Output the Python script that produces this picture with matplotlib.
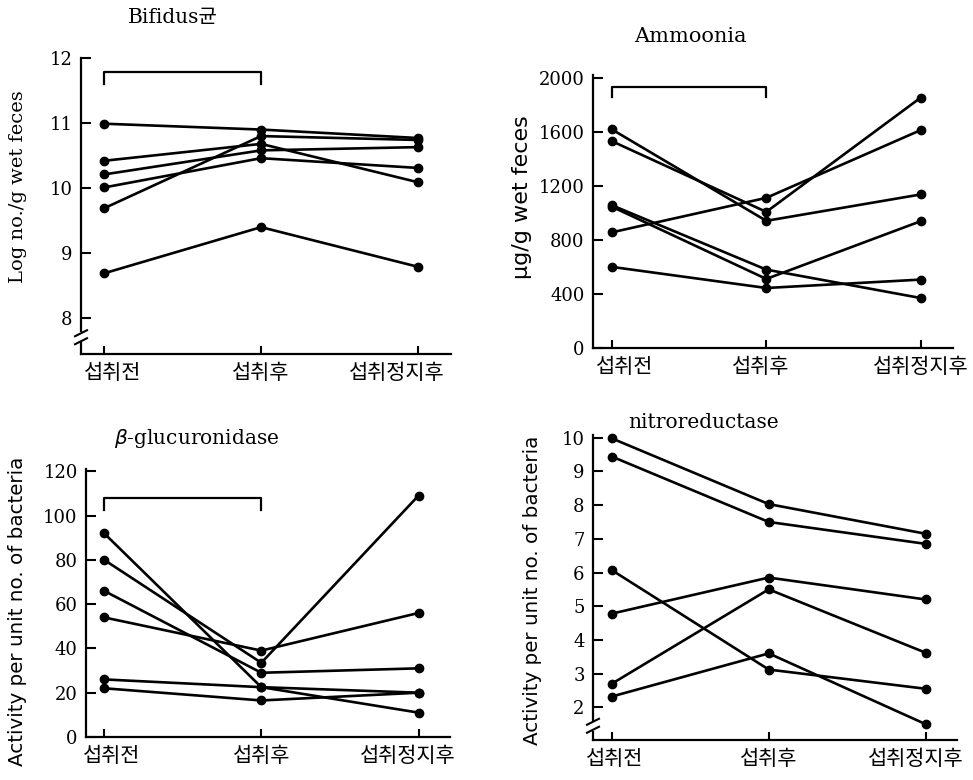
import matplotlib
matplotlib.use('Agg')
import matplotlib.pyplot as plt
from matplotlib.transforms import ScaledTranslation
from matplotlib.patches import Rectangle

# ---------------- data ----------------
categories = ['섭취전', '섭취후', '섭취정지후']

bifidus = [
    [10.99, 10.90, 10.77],
    [9.69, 10.80, 10.74],
    [10.42, 10.68, 10.09],
    [10.21, 10.58, 10.63],
    [10.01, 10.46, 10.31],
    [8.69, 9.40, 8.79],
]
ammonia = [
    [1617, 941, 1136],
    [1530, 1007, 1852],
    [856, 1111, 1612],
    [1056, 580, 370],
    [1045, 511, 938],
    [600, 444, 506],
]
glucuronidase = [
    [92, 22.5, 11],
    [80, 33.5, 109],
    [66, 29, 31],
    [54, 39, 56],
    [26, 22.5, 20],
    [22, 16.5, 20],
]
nitroreductase = [
    [9.98, 8.03, 7.15],
    [9.44, 7.50, 6.85],
    [6.07, 3.12, 2.55],
    [4.78, 5.85, 5.20],
    [2.70, 5.50, 3.62],
    [2.32, 3.60, 1.50],
]

bifidus_ticks = [8, 9, 10, 11, 12]
ammonia_ticks = [0, 400, 800, 1200, 1600, 2000]
gluc_ticks = [0, 20, 40, 60, 80, 100, 120]
nitro_ticks = [2, 3, 4, 5, 6, 7, 8, 9, 10]

# ---------------- style ----------------
W, H = 973, 780
SERIF = ['DejaVu Serif', 'Noto Sans CJK KR']
KR = ['Noto Sans CJK KR', 'DejaVu Sans']
SANS = ['DejaVu Sans']

fig = plt.figure(figsize=(W / 100, H / 100), dpi=100)


def rect(left, top, right, bottom):
    return [left / W, 1 - bottom / H, (right - left) / W, (bottom - top) / H]


def fpos(x, y):
    return x / W, 1 - y / H


def panel(box, series, ylim, xlim, yticks, label_shift, bracket=None, brk=None):
    ax = fig.add_axes(rect(*box))
    xs = list(range(len(categories)))
    for s in series:
        ax.plot(xs, s, '-o', color='black', lw=1.9, ms=6,
                solid_joinstyle='round', clip_on=False, zorder=3)
    ax.set_xlim(*xlim)
    ax.set_ylim(*ylim)
    ax.set_yticks(yticks)
    ax.set_yticklabels([str(t) for t in yticks], family=SERIF, fontsize=13)
    ax.set_xticks(xs)
    ax.set_xticklabels(categories, family=KR, fontsize=15)
    for sp in ['top', 'right']:
        ax.spines[sp].set_visible(False)
    for sp in ['left', 'bottom']:
        ax.spines[sp].set_linewidth(1.6)
    ax.tick_params(axis='y', direction='in', length=7, width=1.5, pad=6)
    ax.tick_params(axis='x', direction='in', length=6, width=1.5, pad=6)
    for lab, dx in zip(ax.get_xticklabels(), label_shift):
        lab.set_transform(lab.get_transform() + ScaledTranslation(dx / 100, 0, fig.dpi_scale_trans))
    if bracket is not None:
        top, end = bracket
        ax.plot([0, 0, 1, 1], [end, top, top, end], color='black', lw=1.6)
    if brk is not None:
        hgt = box[3] - box[1]
        wid = box[2] - box[0]
        yb = brk
        ax.add_patch(Rectangle((-0.01, yb - 6 / hgt), 0.02, 10 / hgt, transform=ax.transAxes,
                               facecolor='white', edgecolor='none', clip_on=False, zorder=4))
        for dy in (-5, 3):
            ax.plot([-6 / wid, 6 / wid], [yb + (dy - 3) / hgt, yb + (dy + 3) / hgt],
                    transform=ax.transAxes, color='black', lw=1.5, clip_on=False, zorder=5)
    return ax


ax1 = panel((81, 58, 451, 354), bifidus, (7.45, 12.0), (-0.147, 2.21), bifidus_ticks,
            [9, 0, -21], bracket=(11.79, 11.60), brk=0.06)
ax2 = panel((593, 75, 953, 348), ammonia, (0, 2020), (-0.123, 2.21), ammonia_ticks,
            [13, -6, 0], bracket=(1928, 1854))
ax3 = panel((86, 469, 450, 737), glucuronidase, (0, 121), (-0.115, 2.2), gluc_ticks,
            [8, 0, -11], bracket=(107.7, 102.3))
ax4 = panel((593, 435, 957, 740), nitroreductase, (1.03, 10.08), (-0.12, 2.2), nitro_ticks,
            [3, 0, -10], brk=0.05)

# titles
fig.text(*fpos(173, 18), 'Bifidus균', family=SERIF, fontsize=14.5, ha='center', va='center')
fig.text(*fpos(690, 36), 'Ammoonia', family=SERIF, fontsize=15, ha='center', va='center')
fig.text(*fpos(197, 438), r'$\beta$-glucuronidase', family=SERIF, fontsize=14.5, ha='center', va='center')
fig.text(*fpos(704, 422), 'nitroreductase', family=SERIF, fontsize=14.5, ha='center', va='center')

# y labels
fig.text(*fpos(18, 187), 'Log no./g wet feces', family=SERIF, fontsize=14,
         rotation=90, ha='center', va='center')
fig.text(*fpos(522, 197), 'μg/g wet feces', family=SANS, fontsize=16,
         rotation=90, ha='center', va='center')
fig.text(*fpos(18, 611), 'Activity per unit no. of bacteria', family=SANS, fontsize=14.3,
         rotation=90, ha='center', va='center')
fig.text(*fpos(532, 590), 'Activity per unit no. of bacteria', family=SANS, fontsize=14.3,
         rotation=90, ha='center', va='center')

fig.savefig('out.png', dpi=100)
